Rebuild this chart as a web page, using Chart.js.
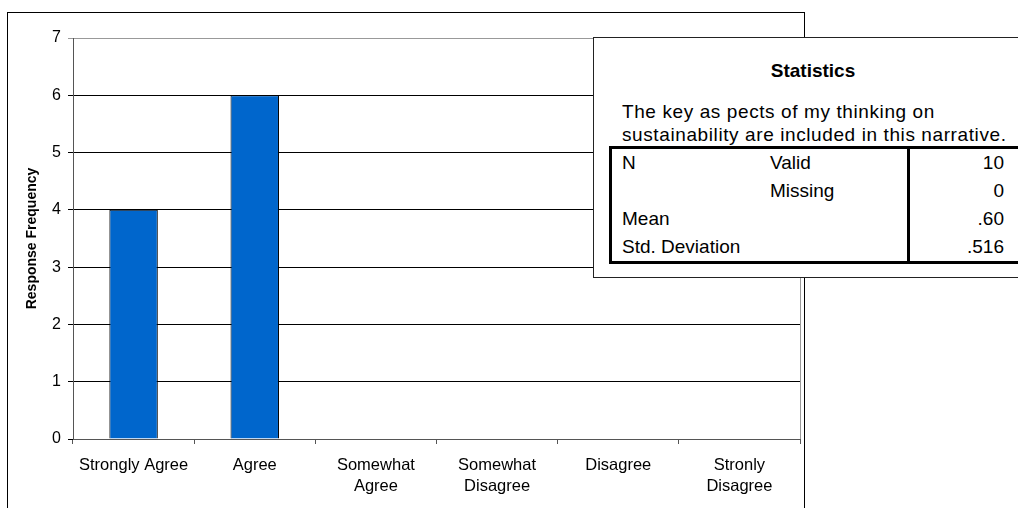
<!DOCTYPE html>
<html>
<head>
<meta charset="utf-8">
<script src="https://cdn.jsdelivr.net/npm/chart.js@4/dist/chart.umd.min.js"></script>
<style>
  html, body { margin: 0; padding: 0; background: #fff; overflow: hidden; }
  #wrap { position: relative; width: 1018px; height: 508px; overflow: hidden; font-family: "Liberation Sans", Arial, sans-serif; }
  #frame { position: absolute; left: 7px; top: 12px; width: 798px; height: 520px; border: 1px solid #000; box-sizing: border-box; }
  #chart { position: absolute; left: 0; top: 0; }
  #stats { position: absolute; left: 593px; top: 37px; width: 440px; height: 241px; background: #fff; border: 1px solid #222; box-sizing: border-box; color: #000; }
  #stats .title { position: absolute; left: 0; width: 100%; top: 22px; text-align: center; font-weight: bold; font-size: 19px; line-height: 22px; }
  #stats .desc { position: absolute; left: 28px; top: 62px; font-size: 19px; line-height: 23px; white-space: nowrap; letter-spacing: 0.6px; }
  #stats table { position: absolute; left: 15px; top: 108px; border-collapse: collapse; font-size: 19px; border: 3px solid #000; }
  #stats td { height: 28px; padding: 0; line-height: 28px; white-space: nowrap; vertical-align: middle; }
  #stats td.c1 { width: 148px; padding-left: 10px; }
  #stats td.c2 { width: 137px; }
  #stats td.c3 { width: 94px; text-align: right; padding-right: 16px; border-left: 3px solid #000; }
</style>
</head>
<body>
<div id="wrap">
  <canvas id="chart" width="1018" height="508"></canvas>
  <div id="frame"></div>
  <div id="stats">
    <div class="title" id="statsTitle"></div>
    <div class="desc" id="statsDesc"></div>
    <table id="statsTable"></table>
  </div>
</div>
<script>
// Response categories and how many respondents chose each
const categories = [
  'Strongly Agree', 'Agree', ['Somewhat', 'Agree'],
  ['Somewhat', 'Disagree'], 'Disagree', ['Stronly', 'Disagree']
];
const counts = [4, 6, 0, 0, 0, 0];
const yTicks = [0, 1, 2, 3, 4, 5, 6, 7];

// Summary statistics panel
const statsTitle = 'Statistics';
const statsQuestion = ['The key as pects of my thinking on', 'sustainability are included in this narrative.'];
const statsGroup = ['N', '', 'Mean', 'Std. Deviation'];
const statsSub = ['Valid', 'Missing', '', ''];
const statsValues = ['10', '0', '.60', '.516'];

document.getElementById('statsTitle').textContent = statsTitle;
const desc = document.getElementById('statsDesc');
statsQuestion.forEach((s, i) => {
  if (i) desc.appendChild(document.createElement('br'));
  desc.appendChild(document.createTextNode(s));
});
const tbl = document.getElementById('statsTable');
statsGroup.forEach((g, i) => {
  const tr = document.createElement('tr');
  [[g, 'c1'], [statsSub[i], 'c2'], [statsValues[i], 'c3']].forEach(([t, c]) => {
    const td = document.createElement('td');
    td.className = c;
    td.textContent = t;
    tr.appendChild(td);
  });
  tbl.appendChild(tr);
});

const FONT = '"Liberation Sans", Arial, sans-serif';

// Thin grey line closing the plot on its right side
const rightEdge = {
  id: 'rightEdge',
  afterDraw(chart) {
    const { ctx, chartArea } = chart;
    ctx.save();
    ctx.strokeStyle = '#9a9a9a';
    ctx.lineWidth = 1;
    ctx.beginPath();
    ctx.moveTo(Math.round(chartArea.right) + 0.5, chartArea.top);
    ctx.lineTo(Math.round(chartArea.right) + 0.5, chartArea.bottom);
    ctx.stroke();
    ctx.restore();
  }
};

new Chart(document.getElementById('chart'), {
  type: 'bar',
  data: {
    labels: categories,
    datasets: [{
      data: counts,
      backgroundColor: '#0066cc',
      borderColor: '#000',
      borderWidth: 1,
      categoryPercentage: 1,
      barPercentage: 0.4
    }]
  },
  options: {
    responsive: false,
    animation: false,
    events: [],
    layout: { padding: { top: 38, right: 218, left: 0, bottom: 0 } },
    plugins: { legend: { display: false }, tooltip: { enabled: false } },
    scales: {
      x: {
        offset: true,
        afterFit(s) { s.height = 69; },
        grid: { display: true, drawOnChartArea: false, offset: true, tickLength: 5, color: '#555' },
        border: { display: true, color: '#555', width: 1 },
        ticks: {
          color: '#000', padding: 10, maxRotation: 0, autoSkip: false,
          font: { family: FONT, size: 16.5, lineHeight: 1.33 }
        }
      },
      y: {
        min: 0, max: 7,
        afterFit(s) { s.width = 73; },
        afterBuildTicks(s) { s.ticks = yTicks.map(v => ({ value: v })); },
        grid: {
          color: c => (c.tick && c.tick.value === 7 ? '#999' : '#000'),
          tickLength: 5, lineWidth: 1
        },
        border: { display: true, color: '#555', width: 1 },
        ticks: { color: '#000', padding: 7, font: { family: FONT, size: 16 } },
        title: {
          display: true, text: 'Response Frequency', color: '#000',
          padding: { top: 24, bottom: 0 },
          font: { family: FONT, size: 14, weight: 'bold' }
        }
      }
    }
  },
  plugins: [rightEdge]
});
</script>
</body>
</html>
